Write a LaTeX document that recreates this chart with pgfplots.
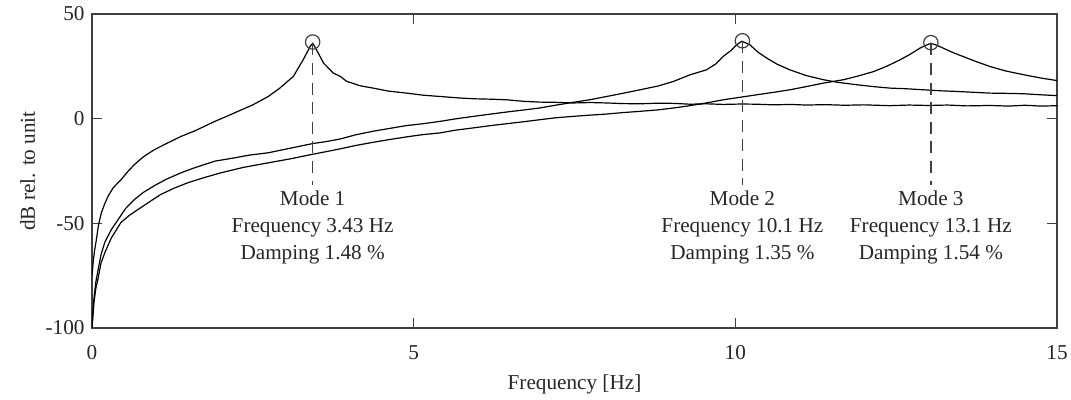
\documentclass[border=0pt]{standalone}
\usepackage{pgfplots}
\pgfplotsset{compat=1.18}
\usepackage{fontspec}
\setmainfont{Liberation Serif}
\definecolor{axgray}{rgb}{0.25,0.25,0.25}
\definecolor{txtgray}{rgb}{0.15,0.15,0.15}

\begin{document}
\fontsize{10.6}{13.5}\selectfont
\begin{tikzpicture}
\begin{axis}[
    scale only axis, width=482.5pt, height=157pt,
    xmin=0, xmax=15, ymin=-100, ymax=50,
    xtick={0,5,10,15}, ytick={-100,-50,0,50},
    xticklabels={0,5,10,15}, yticklabels={-100,-50,0,50},
    tick align=inside, tick pos=both, major tick length=5pt,
    axis line style={axgray, line width=0.6pt},
    tick style={axgray, line width=0.6pt},
    ticklabel style={txtgray, font=\fontsize{10.6}{13.5}\selectfont},
    label style={txtgray, font=\fontsize{10.6}{13.5}\selectfont},
    xlabel={Frequency [Hz]}, ylabel={dB rel. to unit},
    xticklabel style={yshift=-5pt},
    xlabel style={yshift=0pt},
    ylabel style={yshift=-2pt},
    every axis plot/.append style={line width=0.6pt},
    clip=true,
]
% mode 1 curve
\addplot[black] coordinates {
(0,-75) (0.02,-68) (0.04,-63) (0.067,-58) (0.10,-51) (0.145,-45) (0.20,-40.5) (0.25,-37) (0.33,-33) (0.456,-29)
(0.55,-25.5) (0.66,-21.9) (0.80,-18.2) (0.97,-14.8) (1.15,-12.0) (1.39,-8.4) (1.60,-5.8) (1.91,-1.3)
(2.10,1.2) (2.27,3.5) (2.50,6.6) (2.74,10.6) (2.92,14.6) (3.13,20.2) (3.28,28) (3.39,34.4) (3.43,36)
(3.49,32.9) (3.60,26.5) (3.75,21.8) (3.86,20.2) (3.96,17.8) (4.17,15.7) (4.37,14.6) (4.60,13.2) (4.89,12.2)
(5.15,11.2) (5.41,10.6) (5.70,9.9) (5.93,9.5) (6.20,9.3) (6.45,9.0) (6.70,8.3) (6.96,7.9) (7.20,7.8) (7.48,7.5)
(7.75,7.7) (8.0,7.5) (8.25,7.2) (8.52,7.1) (8.80,7.4) (9.04,7.3) (9.30,6.9) (9.55,7.1) (9.81,6.8) (10.10,7.0)
(10.33,6.9) (10.60,6.6) (10.85,6.8) (11.10,6.5) (11.40,6.7) (11.70,6.4) (12.0,6.6) (12.40,6.2) (12.70,6.5)
(13.0,6.3) (13.30,6.5) (13.60,6.1) (13.96,6.3) (14.25,6.0) (14.50,6.4) (14.75,6.0) (15,6.2)
};
% mode 2 curve
\addplot[black] coordinates {
(0,-100) (0.015,-92) (0.03,-86) (0.06,-78) (0.09,-73) (0.14,-65) (0.20,-59) (0.30,-53) (0.40,-48.5)
(0.52,-43) (0.66,-38.6) (0.80,-35.2) (0.97,-32) (1.15,-29) (1.38,-25.9) (1.60,-23.4) (1.91,-20.3)
(2.20,-18.8) (2.45,-17.4) (2.74,-16.3) (3.10,-14) (3.43,-11.9) (3.65,-10.9) (3.86,-9.7) (4.10,-7.7)
(4.37,-6.0) (4.60,-4.8) (4.89,-3.3) (5.15,-2.4) (5.41,-1.3) (5.65,-0.1) (5.93,1.1) (6.20,2.2) (6.45,3.2)
(6.70,4.1) (6.96,5.1) (7.20,6.4) (7.48,7.8) (7.75,9.1) (8.0,10.6) (8.25,12.1) (8.52,13.8) (8.80,15.6)
(9.04,17.8) (9.30,21) (9.55,23.3) (9.70,26.2) (9.81,29.7) (9.93,32.5) (10.02,35.2) (10.10,37) (10.16,36.2)
(10.23,35.2) (10.35,31.8) (10.49,28.9) (10.65,26) (10.85,23.3) (11.10,20.6) (11.37,18.6) (11.60,17.3)
(11.89,16.2) (12.15,15.3) (12.40,14.6) (12.65,14.3) (12.92,13.8) (13.20,13.3) (13.44,13.0) (13.70,12.6)
(13.96,12.2) (14.20,12.1) (14.48,11.9) (14.75,11.4) (15,11.0)
};
% mode 3 curve
\addplot[black] coordinates {
(0,-100) (0.015,-94) (0.03,-88) (0.06,-81) (0.09,-77) (0.14,-69) (0.20,-64) (0.30,-57) (0.45,-49.6)
(0.58,-46.2) (0.72,-43.3) (0.90,-39.6) (1.07,-36.2) (1.27,-33.3) (1.49,-30.6) (1.75,-28.1) (2.0,-25.9)
(2.35,-23.3) (2.74,-21.1) (3.10,-19.1) (3.43,-17) (3.65,-15.7) (3.86,-14.4) (4.10,-12.8) (4.37,-11.3)
(4.60,-10.1) (4.89,-8.7) (5.15,-7.6) (5.41,-6.8) (5.65,-5.5) (5.93,-4.4) (6.20,-3.3) (6.45,-2.4) (6.70,-1.5)
(6.96,-0.5) (7.20,0.4) (7.48,1.1) (7.75,1.7) (8.0,2.2) (8.25,2.9) (8.52,3.5) (8.80,4.2) (9.04,5.1) (9.25,6.0)
(9.45,7.0) (9.60,7.8) (9.81,9.0) (10.05,10.1) (10.33,11.4) (10.60,12.6) (10.85,13.8) (11.10,15.3)
(11.37,17.0) (11.68,18.6) (11.90,20.3) (12.15,22.5) (12.35,25.0) (12.56,28.1) (12.72,30.8) (12.87,33.7)
(12.96,35.0) (13.04,36) (13.12,35.2) (13.23,33.7) (13.38,31.6) (13.54,29.7) (13.75,27.2) (13.96,24.9)
(14.20,22.8) (14.48,21.0) (14.75,19.4) (15,18.2)
};
% peak markers
\addplot[only marks, mark=o, mark size=3.6pt, axgray, mark options={line width=0.6pt}] coordinates {
(3.43,36.6) (10.11,37.2) (13.04,36.3)
};
% dashed guide lines
\addplot[axgray, dash pattern=on 6pt off 3.8pt] coordinates {(3.43,36) (3.43,-31.5)};
\addplot[axgray, dash pattern=on 6pt off 3.8pt] coordinates {(10.11,37) (10.11,-31.5)};
\addplot[axgray, dash pattern=on 6pt off 3.8pt] coordinates {(13.04,36) (13.04,-31.5)};
\node[txtgray, anchor=north, align=center, font=\fontsize{10.6}{13.5}\selectfont] at (axis cs:3.43,-31)
  {Mode 1\\Frequency 3.43 Hz\\Damping 1.48 \%};
\node[txtgray, anchor=north, align=center, font=\fontsize{10.6}{13.5}\selectfont] at (axis cs:10.11,-31)
  {Mode 2\\Frequency 10.1 Hz\\Damping 1.35 \%};
\node[txtgray, anchor=north, align=center, font=\fontsize{10.6}{13.5}\selectfont] at (axis cs:13.04,-31)
  {Mode 3\\Frequency 13.1 Hz\\Damping 1.54 \%};
\end{axis}
\pgfresetboundingbox
\path[use as bounding box] (-46pt,-36pt) rectangle (489.5pt,164pt);
\end{tikzpicture}
\end{document}
